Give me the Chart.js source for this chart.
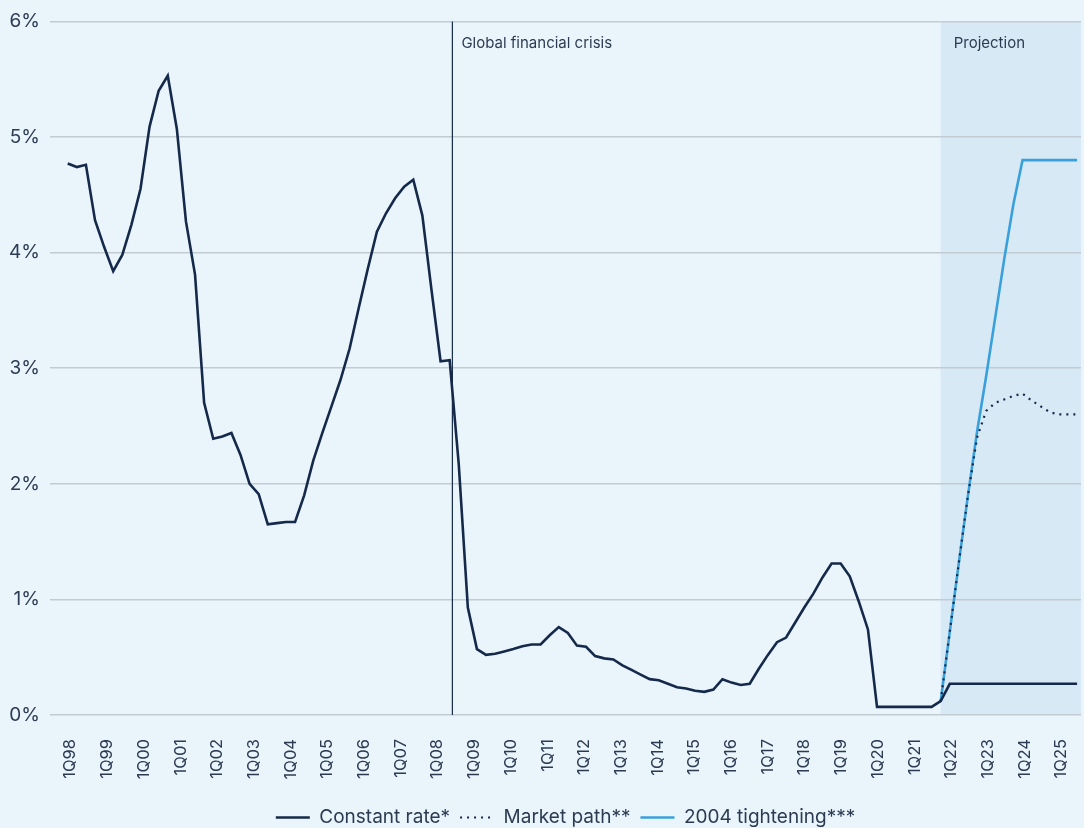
<!DOCTYPE html>
<html>
<head>
<meta charset="utf-8">
<script src="https://cdn.jsdelivr.net/npm/chart.js@4.4.1/dist/chart.umd.min.js"></script>
<style>
  html, body { margin: 0; padding: 0; background: #e9f4fb; }
  #wrap { width: 1084px; height: 828px; position: relative; }
</style>
</head>
<body>
<div id="wrap"><canvas id="c"></canvas></div>
<script>
// ---- Data (quarterly, 1Q98 .. 4Q25) ----
const tickLabels = ['1Q98','1Q99','1Q00','1Q01','1Q02','1Q03','1Q04','1Q05','1Q06','1Q07','1Q08','1Q09','1Q10',
  '1Q11','1Q12','1Q13','1Q14','1Q15','1Q16','1Q17','1Q18','1Q19','1Q20','1Q21','1Q22','1Q23','1Q24','1Q25'];

const constantRate = [
  4.77, 4.74, 4.76, 4.28, 4.05, 3.84, 3.98, 4.24, 4.55, 5.09, 5.40, 5.53,
  5.07, 4.27, 3.81, 2.70, 2.39, 2.41, 2.44, 2.25, 2.00, 1.91, 1.65, 1.66,
  1.67, 1.67, 1.90, 2.20, 2.44, 2.67, 2.90, 3.17, 3.52, 3.86, 4.18, 4.34,
  4.47, 4.57, 4.63, 4.32, 3.68, 3.06, 3.07, 2.17, 0.93, 0.57, 0.52, 0.53,
  0.55, 0.57, 0.595, 0.61, 0.61, 0.69, 0.76, 0.71, 0.60, 0.59, 0.51, 0.49,
  0.48, 0.43, 0.39, 0.35, 0.31, 0.30, 0.27, 0.24, 0.23, 0.21, 0.20, 0.22,
  0.31, 0.28, 0.26, 0.27, 0.40, 0.52, 0.63, 0.67, 0.80, 0.93, 1.05, 1.19,
  1.31, 1.31, 1.20, 0.98, 0.74, 0.07, 0.07, 0.07, 0.07, 0.07, 0.07, 0.07,
  0.12, 0.27, 0.27, 0.27, 0.27, 0.27, 0.27, 0.27, 0.27, 0.27, 0.27, 0.27,
  0.27, 0.27, 0.27, 0.27
];
// Projections start at the quarter index below (same start value as constant rate)
const projectionStart = 96;
const marketPath = [0.12, 0.72, 1.32, 1.90, 2.40, 2.63, 2.70, 2.73, 2.76, 2.78, 2.72, 2.67, 2.62, 2.60, 2.60, 2.60];
const tightening2004 = [0.12, 0.72, 1.32, 1.90, 2.45, 2.93, 3.44, 3.95, 4.42, 4.80, 4.80, 4.80, 4.80, 4.80, 4.80, 4.80];
const gfcPosition = 42.3;         // quarter index of the crisis marker
const yTicks = [0, 1, 2, 3, 4, 5, 6];

// ---- Styles ----
const NAVY = '#15294a';
const BLUE = '#3aa0dc';
const TEXT = '#2c3b52';
const GRID = '#c3cbd2';
const BG = '#e9f4fb';
const SHADE = '#d6e9f5';
const FONT = 'Inter, "Noto Sans", sans-serif';

const pts = (arr, start) => arr.map((v, i) => ({ x: start + i, y: v }));
// label axis spacing (labels are spread over one quarter fewer than data)
const labelStep = 4 * (constantRate.length - 1) / (constantRate.length - 2);
const labelOffset = 0.3;

const decor = {
  id: 'decor',
  beforeDraw(chart) {
    const { ctx, chartArea: a, scales: { x } } = chart;
    ctx.save();
    ctx.fillStyle = BG;
    ctx.fillRect(0, 0, chart.width, chart.height);
    const xs = x.getPixelForValue(projectionStart);
    ctx.fillStyle = SHADE;
    ctx.fillRect(xs, a.top, a.right - xs, a.bottom - a.top);
    ctx.restore();
  },
  beforeDatasetsDraw(chart) {
    const { ctx, chartArea: a, scales: { x } } = chart;
    ctx.save();
    const xg = x.getPixelForValue(gfcPosition);
    ctx.strokeStyle = NAVY;
    ctx.lineWidth = 1.2;
    ctx.beginPath();
    ctx.moveTo(xg, a.top);
    ctx.lineTo(xg, a.bottom);
    ctx.stroke();
    ctx.fillStyle = TEXT;
    ctx.font = '15px ' + FONT;
    ctx.textBaseline = 'middle';
    ctx.textAlign = 'left';
    ctx.fillText('Global financial crisis', xg + 9, a.top + 22);
    const xs = x.getPixelForValue(projectionStart);
    ctx.fillText('Projection', xs + 13, a.top + 22);
    ctx.restore();
  }
};

const legendLabels = (chart) => chart.data.datasets.map((ds, i) => ({
  text: ds.label,
  datasetIndex: i,
  hidden: false,
  pointStyle: 'line',
  strokeStyle: ds.borderColor,
  fillStyle: ds.borderColor,
  lineWidth: ds.borderWidth,
  lineDash: ds.borderDash || [],
  lineCap: 'butt',
  fontColor: TEXT
}));

new Chart(document.getElementById('c'), {
  type: 'line',
  data: {
    datasets: [
      { label: 'Constant rate*', data: pts(constantRate, 0), borderColor: NAVY, backgroundColor: NAVY,
        borderWidth: 2.6, pointRadius: 0, tension: 0 },
      { label: 'Market path**', data: pts(marketPath, projectionStart), borderColor: NAVY, backgroundColor: NAVY,
        borderWidth: 2.2, borderDash: [2, 5], pointRadius: 0, tension: 0 },
      { label: '2004 tightening***', data: pts(tightening2004, projectionStart), borderColor: BLUE, backgroundColor: BLUE,
        borderWidth: 2.6, pointRadius: 0, tension: 0 }
    ]
  },
  options: {
    responsive: true,
    maintainAspectRatio: false,
    animation: false,
    layout: { padding: { top: 19, right: 3, left: 0, bottom: -9 } },
    plugins: {
      legend: {
        position: 'bottom',
        fullSize: false,
        labels: {
          usePointStyle: true, pointStyle: 'line', pointStyleWidth: 34,
          color: TEXT, font: { family: FONT, size: 19 }, padding: 10,
          generateLabels: legendLabels
        }
      },
      tooltip: { enabled: false }
    },
    scales: {
      x: {
        type: 'linear',
        min: -1.95, max: 111.43,
        bounds: 'data',
        grid: { display: false, drawTicks: false },
        border: { display: false },
        afterBuildTicks: (s) => { s.ticks = tickLabels.map((_, k) => ({ value: k * labelStep + labelOffset })); },
        afterFit: (s) => { s.height = 83; s.paddingLeft = 0; s.paddingRight = 0; },
        ticks: {
          autoSkip: false, maxRotation: 90, minRotation: 90, padding: 24,
          color: TEXT, font: { family: FONT, size: 16.5 },
          callback: (v, i) => tickLabels[i]
        }
      },
      y: {
        min: 0, max: 6,
        afterBuildTicks: (s) => { s.ticks = yTicks.map(v => ({ value: v })); },
        afterFit: (s) => { s.width = 50; },
        grid: { color: GRID, lineWidth: 1.5, drawTicks: false },
        border: { display: false },
        ticks: { padding: 10, color: TEXT, font: { family: FONT, size: 19 }, callback: (v) => v + '%' }
      }
    }
  },
  plugins: [decor]
});
</script>
</body>
</html>
